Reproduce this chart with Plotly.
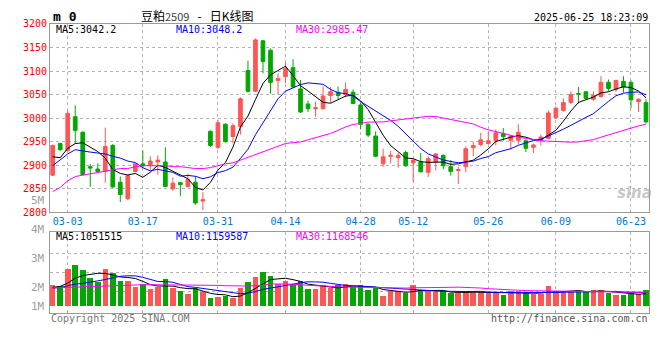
import plotly.graph_objects as go
import pandas as pd

# ---------------- data ----------------
dates = [
    "2025-02-27", "2025-02-28",
    "2025-03-03", "2025-03-04", "2025-03-05", "2025-03-06", "2025-03-07",
    "2025-03-10", "2025-03-11", "2025-03-12", "2025-03-13", "2025-03-14",
    "2025-03-17", "2025-03-18", "2025-03-19", "2025-03-20", "2025-03-21",
    "2025-03-24", "2025-03-25", "2025-03-26", "2025-03-27", "2025-03-28",
    "2025-03-31", "2025-04-01", "2025-04-02", "2025-04-03",
    "2025-04-07", "2025-04-08", "2025-04-09", "2025-04-10", "2025-04-11",
    "2025-04-14", "2025-04-15", "2025-04-16", "2025-04-17", "2025-04-18",
    "2025-04-21", "2025-04-22", "2025-04-23", "2025-04-24", "2025-04-25",
    "2025-04-28", "2025-04-29", "2025-04-30",
    "2025-05-06", "2025-05-07", "2025-05-08", "2025-05-09",
    "2025-05-12", "2025-05-13", "2025-05-14", "2025-05-15", "2025-05-16",
    "2025-05-19", "2025-05-20", "2025-05-21", "2025-05-22", "2025-05-23",
    "2025-05-26", "2025-05-27", "2025-05-28", "2025-05-29", "2025-05-30",
    "2025-06-03", "2025-06-04", "2025-06-05", "2025-06-06",
    "2025-06-09", "2025-06-10", "2025-06-11", "2025-06-12", "2025-06-13",
    "2025-06-16", "2025-06-17", "2025-06-18", "2025-06-19", "2025-06-20",
    "2025-06-23", "2025-06-24", "2025-06-25",
]

opens = [2879, 2946, 2931, 3003, 2970, 2897, 2892, 2887, 2942, 2864,
         2829, 2887, 2903, 2901, 2907, 2907, 2850, 2863, 2855, 2864,
         2824, 2972, 2938, 2987, 2961, 2982, 3101, 3057, 3164, 3144,
         3080, 3088, 3107, 3062, 3030, 3020, 3020, 3048, 3055, 3050,
         3055, 3028, 2987, 2962, 2903, 2919, 2916, 2927, 2905, 2907,
         2885, 2907, 2921, 2897, 2889, 2897, 2937, 2944, 2946, 2952,
         2967, 2953, 2953, 2952, 2938, 2952, 2957, 3001, 3016, 3033,
         3052, 3056, 3040, 3046, 3076, 3061, 3078, 3076, 3035, 3033]

highs = [2944, 2948, 3016, 3027, 2972, 2903, 2904, 2980, 2945, 2876,
         2879, 2904, 2931, 2919, 2921, 2938, 2874, 2864, 2882, 2877,
         2843, 2974, 2997, 2989, 2989, 3044, 3122, 3169, 3166, 3148,
         3095, 3118, 3125, 3081, 3037, 3035, 3067, 3066, 3067, 3076,
         3061, 3033, 2989, 2972, 2935, 2931, 2926, 2931, 2911, 2926,
         2919, 2926, 2923, 2911, 2897, 2940, 2950, 2969, 2972, 2976,
         2979, 2962, 2987, 2955, 2946, 2965, 3016, 3025, 3042, 3057,
         3066, 3057, 3057, 3089, 3082, 3080, 3089, 3080, 3042, 3040]

lows = [2877, 2931, 2930, 2945, 2879, 2854, 2884, 2863, 2852, 2822,
        2826, 2885, 2894, 2890, 2880, 2854, 2846, 2835, 2853, 2816,
        2805, 2939, 2934, 2948, 2947, 2965, 3054, 3056, 3095, 3052,
        3050, 3074, 3064, 3011, 3013, 3003, 3018, 3033, 3040, 3044,
        3030, 2976, 2960, 2918, 2897, 2904, 2895, 2897, 2865, 2885,
        2875, 2889, 2892, 2878, 2860, 2885, 2919, 2940, 2945, 2942,
        2952, 2933, 2944, 2928, 2926, 2942, 2955, 2999, 3014, 3030,
        3031, 3039, 3037, 3044, 3057, 3055, 3054, 3021, 3013, 2989]

closes = [2942, 2933, 3010, 2974, 2880, 2894, 2887, 2940, 2854, 2838,
          2878, 2903, 2899, 2909, 2911, 2855, 2862, 2859, 2870, 2820,
          2827, 2942, 2990, 2950, 2984, 3041, 3057, 3166, 3120, 3076,
          3084, 3105, 3066, 3013, 3020, 3022, 3047, 3056, 3048, 3061,
          3031, 2987, 2964, 2919, 2918, 2921, 2921, 2899, 2911, 2886,
          2914, 2924, 2899, 2887, 2891, 2935, 2942, 2954, 2952, 2969,
          2961, 2962, 2970, 2936, 2943, 2960, 3011, 3021, 3033, 3050,
          3051, 3042, 3048, 3076, 3063, 3080, 3066, 3039, 3040, 2992]

volumes = [1736000, 1655000, 3044000, 3364000, 2937000, 2323000, 2003000, 3044000, 2723000, 2083000,
           2083000, 1602000, 1842000, 1362000, 1522000, 2216000, 1442000, 1202000, 961000, 1442000,
           1148000, 641000, 721000, 828000, 641000, 1442000, 1976000, 2403000, 2804000, 2483000,
           1842000, 2083000, 1842000, 2056000, 1362000, 1362000, 1762000, 1442000, 1709000, 1842000,
           1602000, 1736000, 1335000, 1442000, 854000, 1255000, 1202000, 1068000, 1736000, 1308000,
           1202000, 1148000, 1202000, 1041000, 1121000, 1255000, 1255000, 1121000, 1121000, 1121000,
           935000, 1202000, 1202000, 1121000, 988000, 988000, 1655000, 1202000, 1202000, 1255000,
           1255000, 1175000, 1335000, 1335000, 1068000, 935000, 935000, 1068000, 988000, 1335000]

# moving-average values at the left edge (history before the first visible day)
ma5_head = [2918, 2916, 2936, 2946]
ma10_head = [2899, 2911, 2924, 2933, 2930, 2928, 2926, 2924, 2919]
ma30_head = [2844, 2853, 2867, 2876, 2879, 2882, 2884, 2887, 2890, 2893,
             2893, 2897, 2899, 2899, 2899, 2899, 2897, 2897, 2895, 2893,
             2893, 2895, 2899, 2903, 2905, 2911, 2916, 2923, 2928]
vma5_head = [1575000, 1655000, 1922000, 2323000]
vma10_head = [1522000, 1549000, 1709000, 1842000, 1896000, 1976000, 2109000, 2216000, 2323000]
vma30_head = [1522000, 1549000, 1575000, 1602000, 1629000, 1655000, 1655000, 1682000, 1682000, 1709000,
              1736000, 1762000, 1789000, 1789000, 1789000, 1789000, 1789000, 1789000, 1789000, 1789000,
              1789000, 1762000, 1736000, 1709000, 1682000, 1682000, 1682000, 1709000, 1736000]

tick_dates = ["2025-03-03", "2025-03-17", "2025-03-31", "2025-04-14", "2025-04-28",
              "2025-05-12", "2025-05-26", "2025-06-09", "2025-06-23"]
tick_labels = ["03-03", "03-17", "03-31", "04-14", "04-28", "05-12", "05-26", "06-09", "06-23"]
price_ticks = [2800, 2850, 2900, 2950, 3000, 3050, 3100, 3150, 3200]
vol_labels = ["5M", "4M", "3M", "2M", "1M"]

title_name = "豆粕"
title_code = "2509"
title_rest = "日K线图"
timestamp = "2025-06-25 18:23:09"
price_legend = ["MA5:3042.2", "MA10:3048.2", "MA30:2985.47"]
vol_legend = ["MA5:1051515", "MA10:1159587", "MA30:1168546"]


def with_head(values, n, head):
    out = pd.Series(values, dtype=float).rolling(n).mean().tolist()
    out[:len(head)] = head
    return out


ma5 = with_head(closes, 5, ma5_head)
ma10 = with_head(closes, 10, ma10_head)
ma30 = with_head(closes, 30, ma30_head)
vma5 = with_head(volumes, 5, vma5_head)
vma10 = with_head(volumes, 10, vma10_head)
vma30 = with_head(volumes, 30, vma30_head)

# ---------------- styling / layout ----------------
W, H = 660, 360
RED = "#ff5555"
GREEN = "#00a800"
MONO = "DejaVu Sans Mono"
GRID = "#b4b4b4"
FRAME = "#9a9a9a"


def px(x):
    return x / W


def py(y):
    return 1 - y / H


x_dom = [px(50), px(649)]
xr = [-0.36, 79.4]

fig = go.Figure()

fig.add_trace(go.Candlestick(
    x=dates, open=opens, high=highs, low=lows, close=closes,
    increasing=dict(line=dict(color=RED, width=1), fillcolor=RED),
    decreasing=dict(line=dict(color=GREEN, width=1), fillcolor=GREEN),
    whiskerwidth=0, xaxis="x", yaxis="y", hoverinfo="skip",
))
for vals, col in [(ma5, "#000000"), (ma10, "#0000ff"), (ma30, "#ff00ff")]:
    fig.add_trace(go.Scatter(x=dates, y=vals, mode="lines",
                             line=dict(color=col, width=1), xaxis="x", yaxis="y",
                             hoverinfo="skip"))

bar_colors = [RED if c >= o else GREEN for o, c in zip(opens, closes)]
fig.add_trace(go.Bar(x=dates, y=volumes, marker=dict(color=bar_colors, line=dict(width=0)),
                     width=0.74, xaxis="x2", yaxis="y2", hoverinfo="skip"))
for vals, col in [(vma5, "#000000"), (vma10, "#0000ff"), (vma30, "#ff00ff")]:
    fig.add_trace(go.Scatter(x=dates, y=vals, mode="lines",
                             line=dict(color=col, width=1), xaxis="x2", yaxis="y2",
                             hoverinfo="skip"))

axis_common = dict(showgrid=True, gridcolor=GRID, griddash="dot", gridwidth=1,
                   showline=True, mirror=True, linecolor=FRAME, linewidth=1,
                   zeroline=False, ticks="")

fig.update_layout(
    width=W, height=H, margin=dict(l=0, r=0, t=0, b=0),
    paper_bgcolor="white", plot_bgcolor="white", showlegend=False,
    font=dict(family=MONO, size=10, color="#000"),
    xaxis=dict(domain=x_dom, type="category", range=xr, anchor="y",
               tickvals=tick_dates, ticktext=tick_labels,
               tickfont=dict(family=MONO, size=10, color="#0078d7"),
               rangeslider=dict(visible=False), **axis_common),
    yaxis=dict(domain=[py(213.5), py(18.5)], range=[2800, 3200], anchor="x",
               tickvals=price_ticks, tickfont=dict(family=MONO, size=10, color="#ff0000"),
               **axis_common),
    xaxis2=dict(domain=x_dom, type="category", range=xr, anchor="y2", matches="x",
                tickvals=tick_dates, showticklabels=False, **axis_common),
    yaxis2=dict(domain=[py(318), py(234.3)], range=[-584000, 6112000], anchor="x2",
                tickvals=[1200000, 2800000, 4400000], showticklabels=False, **axis_common),
    bargap=0,
)

ann = []


def text(x, y, s, color="#000", size=10, xanchor="left", family=MONO, **kw):
    ann.append(dict(x=px(x), y=py(y), xref="paper", yref="paper", text=s, showarrow=False,
                    xanchor=xanchor, yanchor="middle", font=dict(family=family, size=size, color=color),
                    **kw))


# header
text(51, 11, "<b>m 0</b>", size=13)
text(139, 10,
     f"{title_name}<span style='font-size:11px;color:#444'>{title_code}</span>"
     f"\u00a0\u00a0\u00a0-\u00a0\u00a0\u00a0{title_rest}",
     size=12, family="Noto Sans CJK SC")
text(650, 12, timestamp, xanchor="right")
# price legend
text(54, 24, price_legend[0], color="#000000")
text(174, 24, price_legend[1], color="#0000ff")
text(294, 24, price_legend[2], color="#ff00ff")
# volume legend
text(54, 238.5, vol_legend[0], color="#000000")
text(174, 238.5, vol_legend[1], color="#0000ff")
text(294, 238.5, vol_legend[2], color="#ff00ff")
# volume axis labels
for lab, yy in zip(vol_labels, [200.7, 230.7, 260.7, 290.7, 310.7]):
    text(47, yy, lab, color="#a0a0a0", size=11, xanchor="right")
# footer
text(49, 323.5, "Copyright 2025 SINA.COM", color="#777777")
text(650, 323.5, "http://finance.sina.com.cn", color="#555555", xanchor="right")
# watermark
text(634, 193, "<b><i>sina</i></b>", color="rgba(150,150,150,0.55)", size=15,
     xanchor="center", family="DejaVu Sans")

fig.update_layout(annotations=ann)
fig.write_html("out.html", config={"displayModeBar": False},
               post_script="document.body.style.margin='0';")
